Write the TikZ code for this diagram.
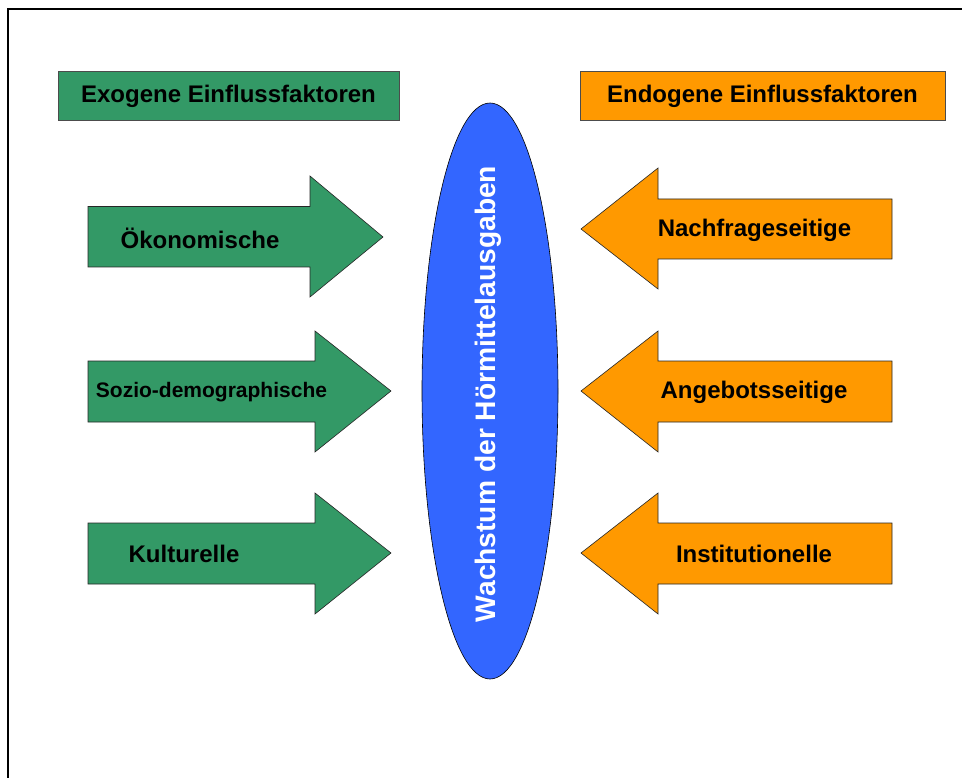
\documentclass[tikz,border=0pt]{standalone}
\usepackage{fontspec}
\setmainfont{Liberation Sans}
\usepackage{tikz}
\usetikzlibrary{shapes.geometric}
\usetikzlibrary{positioning}
\definecolor{exogreen}{HTML}{339966}
\definecolor{endoorange}{HTML}{FF9900}
\definecolor{growthblue}{HTML}{3366FF}

\begin{document}
\begin{tikzpicture}[x=1pt, y=-1pt, font=\bfseries]
	\tikzstyle{header}=[draw=black!70, line width=0.6pt, inner sep=0pt]
	\tikzstyle{exo}=[draw=black!85, line width=0.6pt, fill=exogreen]
	\tikzstyle{endo}=[draw=black!85, line width=0.6pt, fill=endoorange]
	\tikzstyle{label}=[inner sep=0pt, font=\bfseries\fontsize{24}{28}\selectfont]
	\tikzstyle{growth}=[ellipse, draw=black, line width=0.6pt, fill=growthblue, inner sep=0pt, minimum width=136pt, minimum height=576pt]

	\useasboundingbox (0,0) rectangle (962,778);
	\draw[line width=2pt] (8,778) -- (8,9) -- (962,9);

	% headers
	\filldraw[header, fill=exogreen] (58,71) rectangle (399,120);
	\node[label] (exohead) at (228.5,96) {Exogene Einflussfaktoren};
	\filldraw[header, fill=endoorange] (580,71) rectangle (945,120);
	\node[label] (endohead) at (762.5,96) {Endogene Einflussfaktoren};

	% centre
	\node[growth] (growth) at (490,391) {};
	\node[rotate=90, inner sep=0pt, text=white, font=\bfseries\fontsize{28.2}{32}\selectfont] (growthtext) at (488,394) {Wachstum der H\"ormittelausgaben};

	% exogenous arrows
	\filldraw[exo] (88,206.5) -- (310,206.5) -- (310,176) -- (383,237) -- (310,297) -- (310,267) -- (88,267) -- cycle;
	\node[label] (oeko) at (200,238) {\"Okonomische};
	\filldraw[exo] (88,361) -- (315,361) -- (315,331) -- (391,391) -- (315,452) -- (315,422) -- (88,422) -- cycle;
	\node[label, font=\bfseries\fontsize{21}{25}\selectfont] (sozio) at (211.5,392) {Sozio-demographische};
	\filldraw[exo] (88,523) -- (315,523) -- (315,493) -- (391,553) -- (315,614) -- (315,584) -- (88,584) -- cycle;
	\node[label] (kultur) at (184,554) {Kulturelle};

	% endogenous arrows
	\filldraw[endo] (892,199) -- (658,199) -- (658,168) -- (581,229) -- (658,289) -- (658,259) -- (892,259) -- cycle;
	\node[label] (nachfrage) at (754.5,230) {Nachfrageseitige};
	\filldraw[endo] (892,361) -- (658,361) -- (658,331) -- (581,391) -- (658,452) -- (658,422) -- (892,422) -- cycle;
	\node[label] (angebot) at (754,392) {Angebotsseitige};
	\filldraw[endo] (892,523) -- (658,523) -- (658,493) -- (581,553) -- (658,614) -- (658,584) -- (892,584) -- cycle;
	\node[label] (institution) at (754,554) {Institutionelle};
\end{tikzpicture}
\end{document}
